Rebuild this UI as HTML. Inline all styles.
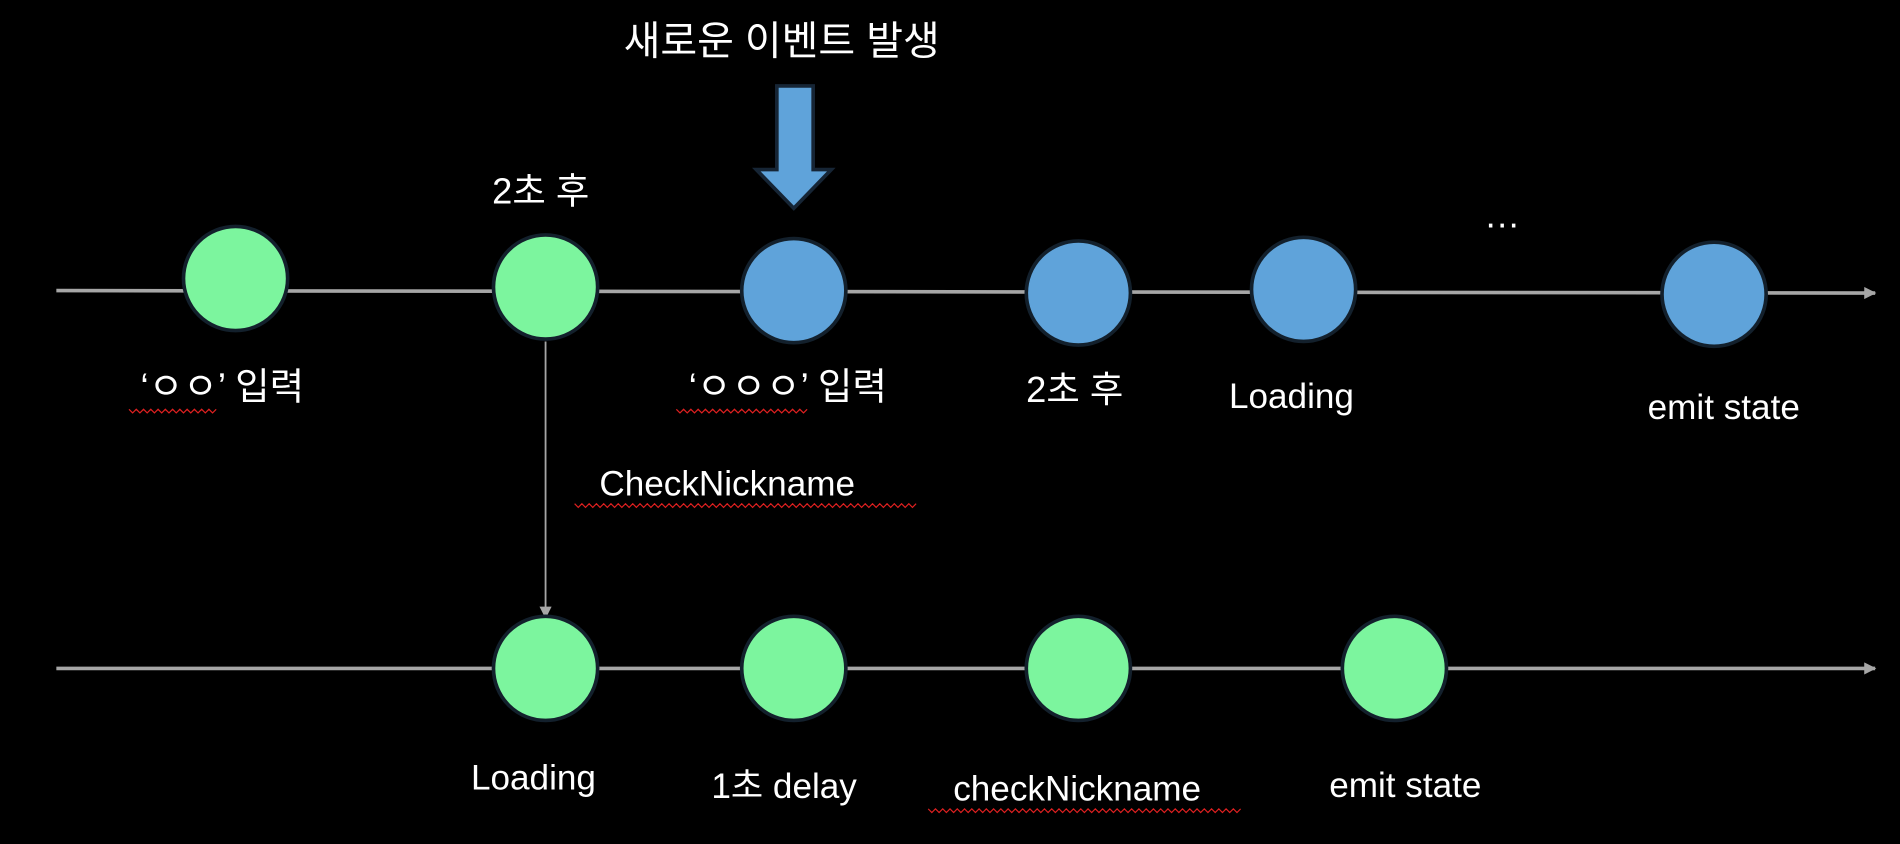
<!DOCTYPE html>
<html><head><meta charset="utf-8"><style>
html,body{margin:0;padding:0;background:#000;}
svg{display:block}
text{fill:#fff;font-family:"Liberation Sans","Noto Sans CJK KR",sans-serif;}
</style></head><body>
<svg width="1900" height="844" viewBox="0 0 1568 697" xmlns="http://www.w3.org/2000/svg">
<defs>
<marker id="ah" markerWidth="10" markerHeight="10" refX="9" refY="5" orient="auto" markerUnits="userSpaceOnUse">
<path d="M0,0 L10,5 L0,10 z" fill="#a6a6a6"/>
</marker>
</defs>
<rect width="1568" height="697" fill="#000"/>
<!-- lines -->
<line x1="46" y1="240" x2="1548" y2="242" stroke="#a6a6a6" stroke-width="3" marker-end="url(#ah)"/>
<line x1="46" y1="552" x2="1548" y2="552" stroke="#a6a6a6" stroke-width="3" marker-end="url(#ah)"/>
<line x1="450" y1="282" x2="450" y2="510" stroke="#a6a6a6" stroke-width="1.5" marker-end="url(#ah)"/>
<!-- big arrow -->
<path d="M641,71 L671,71 L671,140 L686,140 L655,172 L624,140 L641,140 z" fill="#5fa3da" stroke="#162535" stroke-width="3"/>
<!-- circles -->
<g stroke="#13202c" stroke-width="3">
<ellipse cx="194" cy="230" rx="43" ry="43" fill="#7cf59e"/>
<ellipse cx="450" cy="237" rx="43" ry="43" fill="#7cf59e"/>
<ellipse cx="655" cy="240" rx="43" ry="43" fill="#5fa3da"/>
<ellipse cx="890" cy="242" rx="43" ry="43" fill="#5fa3da"/>
<ellipse cx="1076" cy="239" rx="43" ry="43" fill="#5fa3da"/>
<ellipse cx="1415" cy="243" rx="43" ry="43" fill="#5fa3da"/>
<ellipse cx="450" cy="552" rx="43" ry="43" fill="#7cf59e"/>
<ellipse cx="655" cy="552" rx="43" ry="43" fill="#7cf59e"/>
<ellipse cx="890" cy="552" rx="43" ry="43" fill="#7cf59e"/>
<ellipse cx="1151" cy="552" rx="43" ry="43" fill="#7cf59e"/>
</g>
<!-- text -->
<text x="645" y="45" font-size="33" text-anchor="middle">새로운 이벤트 발생</text>
<text x="446" y="168" font-size="30" text-anchor="middle">2초 후</text>
<text x="1240" y="188" font-size="30" text-anchor="middle">…</text>
<text x="183" y="330" font-size="31" text-anchor="middle">‘ㅇㅇ’ 입력</text>
<text x="650" y="330" font-size="31" text-anchor="middle">‘ㅇㅇㅇ’ 입력</text>
<text x="887" y="332" font-size="30" text-anchor="middle">2초 후</text>
<text x="1066" y="337" font-size="29" text-anchor="middle">Loading</text>
<text x="1423" y="346" font-size="29" text-anchor="middle">emit state</text>
<text x="600" y="409" font-size="29" text-anchor="middle">CheckNickname</text>
<text x="440" y="652" font-size="29" text-anchor="middle">Loading</text>
<text x="647" y="659" font-size="29" text-anchor="middle">1초 delay</text>
<text x="889" y="661" font-size="29" text-anchor="middle">checkNickname</text>
<text x="1160" y="658" font-size="29" text-anchor="middle">emit state</text>
<!-- squiggles -->
<g stroke="#e02020" stroke-width="1" fill="none">
<path d="M106,338 l3,3 l3,-3 l3,3 l3,-3 l3,3 l3,-3 l3,3 l3,-3 l3,3 l3,-3 l3,3 l3,-3 l3,3 l3,-3 l3,3 l3,-3 l3,3 l3,-3 l3,3 l3,-3 l3,3 l3,-3 l3,3 l3,-3"/>
<path d="M558,338 l3,3 l3,-3 l3,3 l3,-3 l3,3 l3,-3 l3,3 l3,-3 l3,3 l3,-3 l3,3 l3,-3 l3,3 l3,-3 l3,3 l3,-3 l3,3 l3,-3 l3,3 l3,-3 l3,3 l3,-3 l3,3 l3,-3 l3,3 l3,-3 l3,3 l3,-3 l3,3 l3,-3 l3,3 l3,-3 l3,3 l3,-3 l3,3 l3,-3"/>
<path d="M474,416 l3,3 l3,-3 l3,3 l3,-3 l3,3 l3,-3 l3,3 l3,-3 l3,3 l3,-3 l3,3 l3,-3 l3,3 l3,-3 l3,3 l3,-3 l3,3 l3,-3 l3,3 l3,-3 l3,3 l3,-3 l3,3 l3,-3 l3,3 l3,-3 l3,3 l3,-3 l3,3 l3,-3 l3,3 l3,-3 l3,3 l3,-3 l3,3 l3,-3 l3,3 l3,-3 l3,3 l3,-3 l3,3 l3,-3 l3,3 l3,-3 l3,3 l3,-3 l3,3 l3,-3 l3,3 l3,-3 l3,3 l3,-3 l3,3 l3,-3 l3,3 l3,-3 l3,3 l3,-3 l3,3 l3,-3 l3,3 l3,-3 l3,3 l3,-3 l3,3 l3,-3 l3,3 l3,-3 l3,3 l3,-3 l3,3 l3,-3 l3,3 l3,-3 l3,3 l3,-3 l3,3 l3,-3 l3,3 l3,-3 l3,3 l3,-3 l3,3 l3,-3 l3,3 l3,-3 l3,3 l3,-3 l3,3 l3,-3 l3,3 l3,-3 l3,3 l3,-3"/>
<path d="M766,668 l3,3 l3,-3 l3,3 l3,-3 l3,3 l3,-3 l3,3 l3,-3 l3,3 l3,-3 l3,3 l3,-3 l3,3 l3,-3 l3,3 l3,-3 l3,3 l3,-3 l3,3 l3,-3 l3,3 l3,-3 l3,3 l3,-3 l3,3 l3,-3 l3,3 l3,-3 l3,3 l3,-3 l3,3 l3,-3 l3,3 l3,-3 l3,3 l3,-3 l3,3 l3,-3 l3,3 l3,-3 l3,3 l3,-3 l3,3 l3,-3 l3,3 l3,-3 l3,3 l3,-3 l3,3 l3,-3 l3,3 l3,-3 l3,3 l3,-3 l3,3 l3,-3 l3,3 l3,-3 l3,3 l3,-3 l3,3 l3,-3 l3,3 l3,-3 l3,3 l3,-3 l3,3 l3,-3 l3,3 l3,-3 l3,3 l3,-3 l3,3 l3,-3 l3,3 l3,-3 l3,3 l3,-3 l3,3 l3,-3 l3,3 l3,-3 l3,3 l3,-3 l3,3 l3,-3"/>
</g>
</svg>
</body></html>
